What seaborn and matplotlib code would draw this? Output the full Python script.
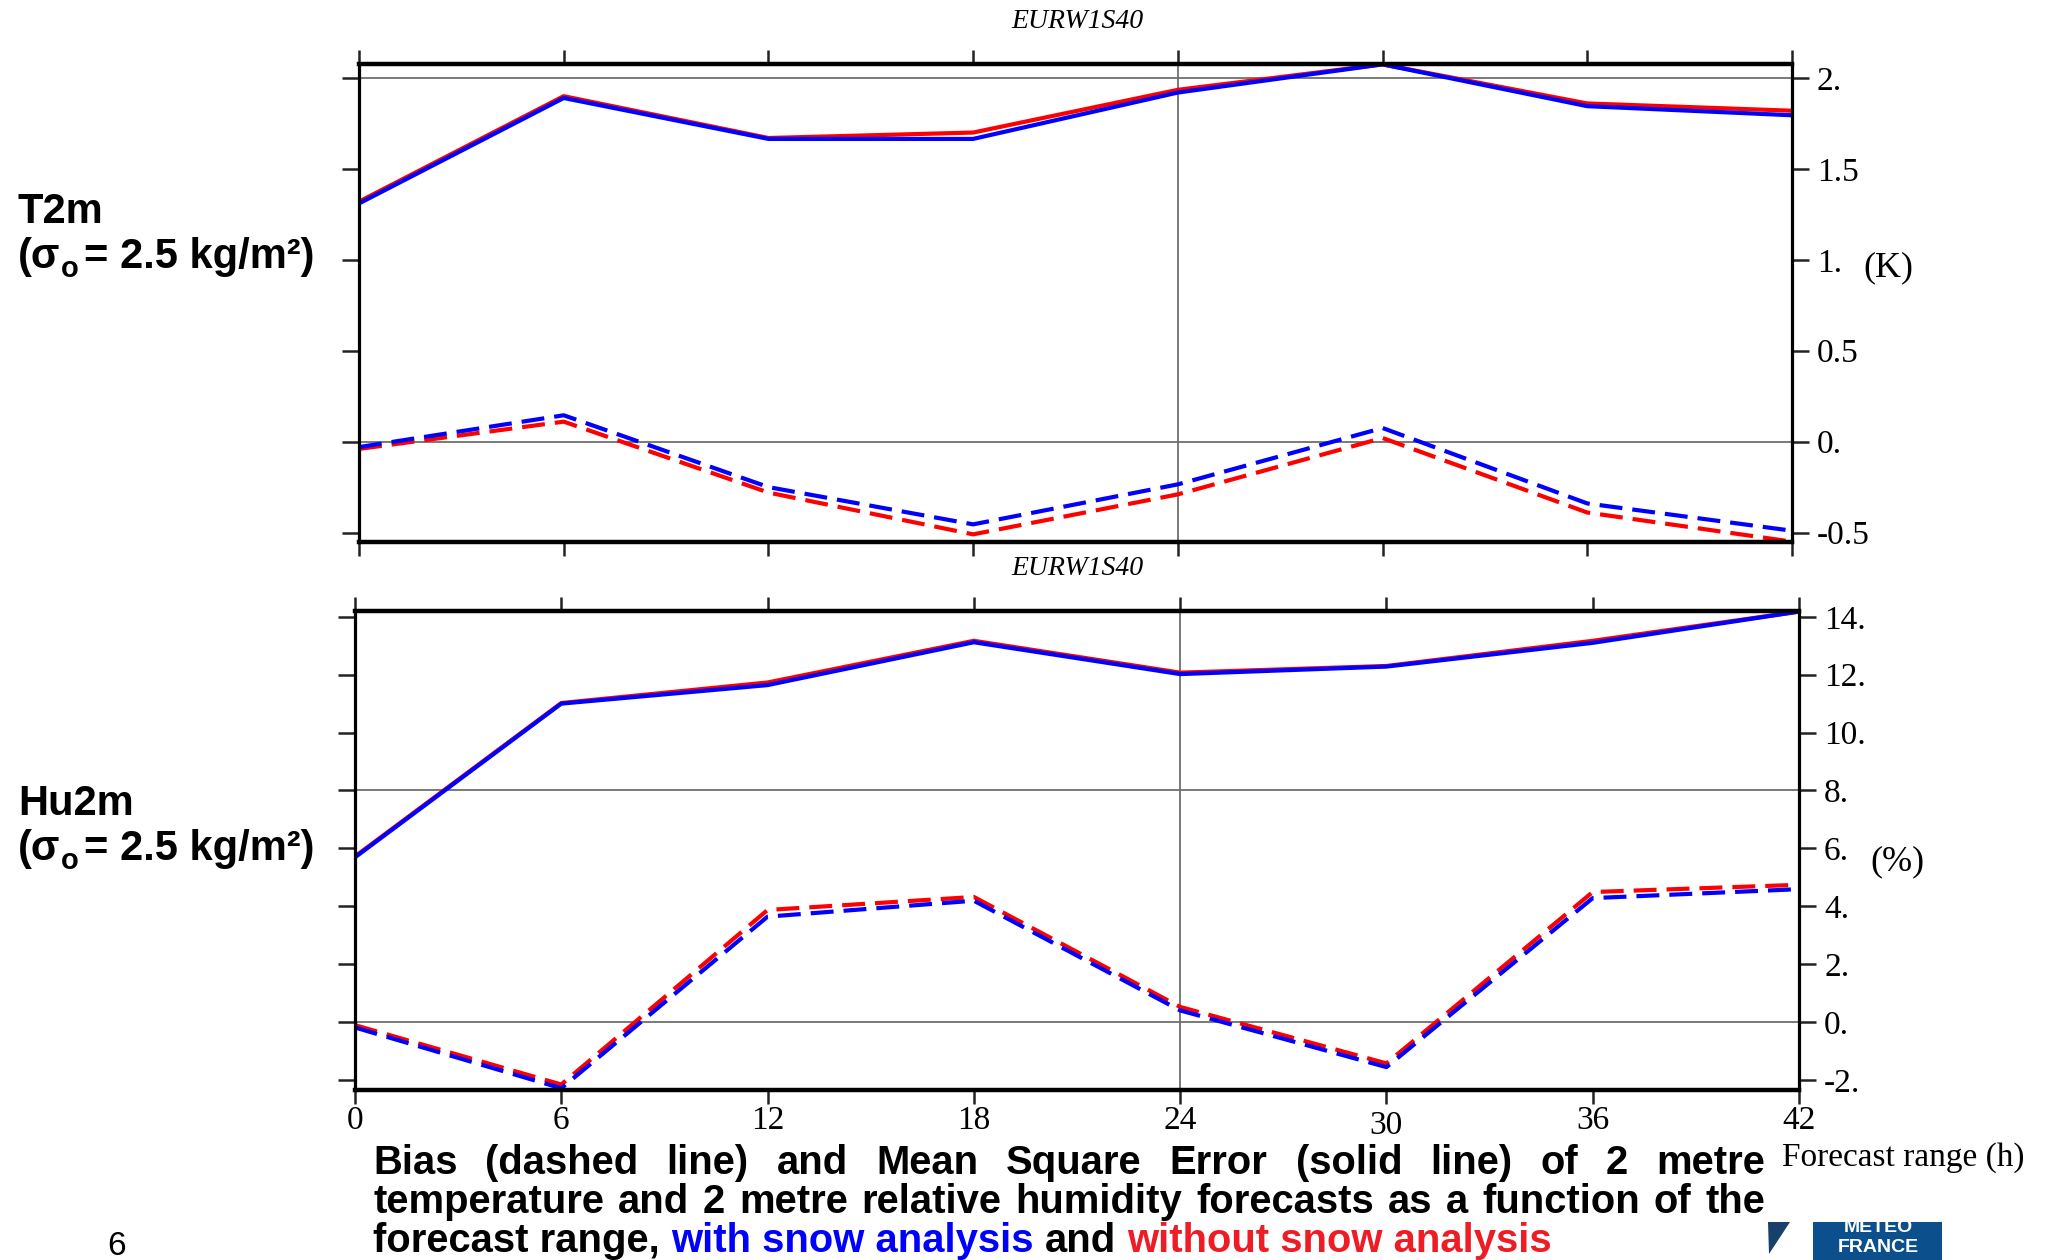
import matplotlib
matplotlib.use("Agg")
import matplotlib.pyplot as plt
import matplotlib.transforms as mtransforms
from matplotlib.patches import Rectangle, Polygon
import seaborn as sns
import pandas as pd

# ---------------- data ----------------
hours = [0, 6, 12, 18, 24, 30, 36, 42]

t2m_mse_with = [1.31, 1.89, 1.665, 1.665, 1.92, 2.075, 1.845, 1.795]
t2m_mse_without = [1.32, 1.90, 1.67, 1.70, 1.935, 2.075, 1.86, 1.82]
t2m_bias_with = [-0.03, 0.145, -0.25, -0.455, -0.235, 0.075, -0.34, -0.49]
t2m_bias_without = [-0.04, 0.11, -0.28, -0.51, -0.29, 0.02, -0.39, -0.55]

hu2m_mse_with = [5.69, 11.0, 11.64, 13.12, 12.02, 12.28, 13.10, 14.18]
hu2m_mse_without = [5.72, 11.02, 11.73, 13.17, 12.07, 12.30, 13.17, 14.18]
hu2m_bias_with = [-0.19, -2.29, 3.64, 4.19, 0.40, -1.56, 4.28, 4.59]
hu2m_bias_without = [-0.11, -2.16, 3.87, 4.32, 0.52, -1.43, 4.49, 4.74]

t2m_yticks = [2, 1.5, 1, 0.5, 0, -0.5]
t2m_yticklabels = ["2.", "1.5", "1.", "0.5", "0.", "-0.5"]
hu2m_yticks = [14, 12, 10, 8, 6, 4, 2, 0, -2]
hu2m_yticklabels = ["14.", "12.", "10.", "8.", "6.", "4.", "2.", "0.", "-2."]
xticklabels = ["0", "6", "12", "18", "24", "30", "36", "42"]

WITH = "with snow analysis"
WITHOUT = "without snow analysis"


def long_df(mse_with, mse_without, bias_with, bias_without):
    rows = []
    for analysis, mse, bias in [(WITHOUT, mse_without, bias_without),
                                (WITH, mse_with, bias_with)]:
        for h, v in zip(hours, mse):
            rows.append(dict(hour=h, value=v, analysis=analysis, metric="MSE"))
        for h, v in zip(hours, bias):
            rows.append(dict(hour=h, value=v, analysis=analysis, metric="Bias"))
    return pd.DataFrame(rows)


df_t2m = long_df(t2m_mse_with, t2m_mse_without, t2m_bias_with, t2m_bias_without)
df_hu2m = long_df(hu2m_mse_with, hu2m_mse_without, hu2m_bias_with, hu2m_bias_without)

# ---------------- figure ----------------
plt.rcParams["font.family"] = ["Liberation Serif", "DejaVu Serif"]
W, H = 2047, 1260
fig = plt.figure(figsize=(W / 100, H / 100), dpi=100)
fig.patch.set_facecolor("white")


def ax_rect(l, t, r, b):
    return [l / W, 1 - b / H, (r - l) / W, (b - t) / H]


def fx(x):
    return x / W


def fy(y):
    return 1 - y / H


ax1 = fig.add_axes(ax_rect(359, 64, 1792, 542))
ax2 = fig.add_axes(ax_rect(355, 611, 1799, 1090))

palette = {WITH: "#0000ff", WITHOUT: "#ff0000"}
dashes = {"MSE": "", "Bias": (5.5, 2.4)}

for ax, df in [(ax1, df_t2m), (ax2, df_hu2m)]:
    sns.lineplot(data=df, x="hour", y="value", hue="analysis", style="metric",
                 hue_order=[WITHOUT, WITH], style_order=["MSE", "Bias"],
                 palette=palette, dashes=dashes, linewidth=3,
                 errorbar=None, legend=False, ax=ax)

ax1.set_ylim(-0.552, 2.077)
ax2.set_ylim(-2.35, 14.2)

grid_kw = dict(color="#6e6e6e", lw=1.3, zorder=0)
ax1.axhline(2, **grid_kw)
ax1.axhline(0, **grid_kw)
ax1.axvline(24, **grid_kw)
ax2.axhline(8, **grid_kw)
ax2.axhline(0, **grid_kw)
ax2.axvline(24, **grid_kw)

for ax, yt, ytl in [(ax1, t2m_yticks, t2m_yticklabels),
                    (ax2, hu2m_yticks, hu2m_yticklabels)]:
    ax.set_xlim(0, 42)
    ax.set_xticks(hours, labels=xticklabels)
    ax.set_yticks(yt, labels=ytl)
    ax.set_xlabel("")
    ax.set_ylabel("")
    ax.set_facecolor("white")
    ax.tick_params(axis="x", direction="out", top=True, bottom=True,
                   length=10, width=1.8, color="#222222",
                   labeltop=False, labelsize=24, pad=1.5)
    ax.tick_params(axis="y", direction="out", left=True, right=True,
                   length=12, width=1.8, color="#222222",
                   labelleft=False, labelright=True, labelsize=24, pad=6)
    for s in ["top", "bottom"]:
        ax.spines[s].set_linewidth(3.2)
        ax.spines[s].set_color("black")
    for s in ["left", "right"]:
        ax.spines[s].set_linewidth(2.3)
        ax.spines[s].set_color("black")

ax1.tick_params(axis="x", labelbottom=False)

# the "30" label sits a little lower in the reference
lbl30 = ax2.get_xticklabels()[5]
lbl30.set_transform(lbl30.get_transform() +
                    mtransforms.ScaledTranslation(0, -5 / 100, fig.dpi_scale_trans))

# titles above each panel
for ty in (22, 569):
    fig.text(fx(1077), fy(ty), "EURW1S40", ha="center", va="center",
             fontsize=20, style="italic", family=["Liberation Serif"])

# units
fig.text(fx(1888), fy(268), "(K)", ha="center", va="center", fontsize=26)
fig.text(fx(1897), fy(862), "(%)", ha="center", va="center", fontsize=26)
fig.text(fx(1782), fy(1158), "Forecast range (h)", ha="left", va="center",
         fontsize=24)

# ---------------- sans-serif texts ----------------
SANS = ["Liberation Sans", "DejaVu Sans"]
renderer = fig.canvas.get_renderer()


def text_width(s, **kw):
    t = fig.text(0, 0, s, **kw)
    w = t.get_window_extent(renderer).width
    t.remove()
    return w


def place_runs(x0, ybase, runs):
    """runs: list of (string, text kwargs, dy pixels, extra dx after)"""
    x = x0
    for s, kw, dy, dx in runs:
        fig.text(fx(x), fy(ybase + dy), s, ha="left", va="baseline", **kw)
        x += text_width(s, **kw) + dx
    return x


big = dict(family=SANS, weight="bold", fontsize=30)
sub = dict(family=SANS, weight="bold", fontsize=21)

for name, yb in [("T2m", 223), ("Hu2m", 815)]:
    fig.text(fx(18), fy(yb), name, ha="left", va="baseline", **big)
    place_runs(18, yb + 45, [("(σ", big, 0, 0), ("o", sub, 9, 6),
                             ("= 2.5 kg/m²)", big, 0, 0)])

# caption (justified first two lines)
cap = dict(family=SANS, weight="bold", fontsize=28.8)
cap_left, cap_right = 373, 1765
line1 = "Bias (dashed line) and Mean Square Error (solid line) of 2 metre"
line2 = "temperature and 2 metre relative humidity forecasts as a function of the"


def justify(line, ybase, color="black"):
    words = line.split(" ")
    widths = [text_width(w, **cap) for w in words]
    gap = (cap_right - cap_left - sum(widths)) / (len(words) - 1)
    x = cap_left
    for w, wd in zip(words, widths):
        fig.text(fx(x), fy(ybase), w, ha="left", va="baseline", color=color, **cap)
        x += wd + gap


justify(line1, 1174)
justify(line2, 1213)

space_w = text_width("a a", **cap) - text_width("aa", **cap)
line3_runs = [("forecast range,", "black"), (WITH, "#0000ff"),
              ("and", "black"), (WITHOUT, "#ee1c25")]
x = cap_left
for s, c in line3_runs:
    fig.text(fx(x), fy(1252), s, ha="left", va="baseline", color=c, **cap)
    x += text_width(s, **cap) + space_w

# page number
fig.text(fx(117), fy(1255), "6", ha="center", va="baseline",
         family=SANS, fontsize=24)

# Meteo-France logo (partially cut at the bottom of the page)
tri = Polygon([[fx(1768), fy(1222)], [fx(1790), fy(1222)], [fx(1769), fy(1254)]],
              closed=True, transform=fig.transFigure, facecolor="#17406b",
              edgecolor="none")
fig.patches.append(tri)
box = Rectangle((fx(1813), fy(1262)), (1942 - 1813) / W, (1262 - 1222) / H,
                transform=fig.transFigure, facecolor="#0b4f8c", edgecolor="none")
fig.patches.append(box)
for s, yy in [("MÉTÉO", 1228), ("FRANCE", 1248)]:
    t = fig.text(fx(1878), fy(yy), s, ha="center", va="center", color="white",
                 family=SANS, weight="bold", fontsize=14)
    t.set_clip_path(box)

fig.savefig("out.png", dpi=100, facecolor="white")
